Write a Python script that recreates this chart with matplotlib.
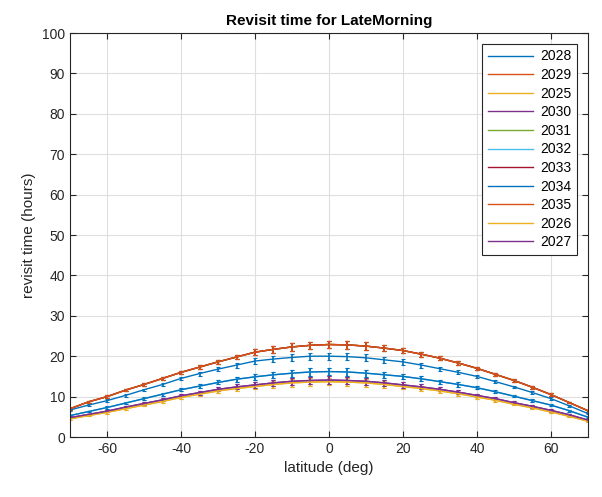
import numpy as np
import matplotlib
matplotlib.use("Agg")
import matplotlib.pyplot as plt

plt.rcParams['font.family'] = ['Liberation Sans', 'DejaVu Sans']
plt.rcParams['axes.unicode_minus'] = False

lat = [-70, -65, -60, -55, -50, -45, -40, -35, -30, -25, -20, -15, -10, -5, 0,
       5, 10, 15, 20, 25, 30, 35, 40, 45, 50, 55, 60, 65, 70]

curve_top = [7.0, 8.7, 10.0, 11.6, 13.0, 14.5, 16.0, 17.3, 18.6, 19.8, 21.0, 21.7, 22.3, 22.7, 22.9,
             22.8, 22.5, 22.0, 21.4, 20.5, 19.5, 18.3, 17.0, 15.5, 14.0, 12.3, 10.5, 8.5, 6.5]
curve_hi = [6.7, 7.9, 9.0, 10.3, 11.7, 13.0, 14.5, 15.7, 16.8, 17.8, 18.8, 19.3, 19.7, 20.0, 20.0,
            19.9, 19.6, 19.1, 18.6, 17.8, 16.9, 16.0, 15.0, 13.7, 12.4, 11.0, 9.5, 7.7, 5.8]
curve_mid = [5.3, 6.3, 7.3, 8.4, 9.5, 10.6, 11.7, 12.6, 13.5, 14.3, 14.9, 15.4, 15.8, 16.1, 16.2,
             16.1, 15.8, 15.4, 15.0, 14.4, 13.7, 13.0, 12.2, 11.2, 10.1, 9.0, 7.9, 6.5, 4.9]
curve_lo = [4.8, 5.6, 6.4, 7.4, 8.3, 9.2, 10.2, 11.0, 11.8, 12.4, 12.9, 13.4, 13.8, 14.0, 14.1,
            14.0, 13.8, 13.4, 12.9, 12.4, 11.8, 11.1, 10.3, 9.5, 8.5, 7.6, 6.6, 5.5, 4.2]
curve_lo2 = [4.5, 5.3, 6.1, 7.0, 7.9, 8.8, 9.8, 10.6, 11.4, 12.0, 12.5, 13.0, 13.4, 13.6, 13.7,
             13.6, 13.4, 13.0, 12.5, 12.0, 11.4, 10.7, 9.9, 9.1, 8.1, 7.2, 6.2, 5.1, 3.9]
err = [0.2, 0.2, 0.3, 0.3, 0.3, 0.4, 0.4, 0.5, 0.5, 0.6, 0.7, 0.8, 0.9, 0.9, 0.9,
       0.9, 0.9, 0.8, 0.7, 0.6, 0.5, 0.5, 0.4, 0.4, 0.3, 0.3, 0.3, 0.2, 0.2]

years = ['2028', '2029', '2025', '2030', '2031', '2032', '2033', '2034', '2035', '2026', '2027']
colors = ['#0072BD', '#D95319', '#EDB120', '#7E2F8E', '#77AC30', '#4DBEEE', '#A2142F',
          '#0072BD', '#D95319', '#EDB120', '#7E2F8E']
series = [curve_hi, curve_top, curve_lo2, curve_lo, curve_top, curve_mid, curve_top,
          curve_mid, curve_top, curve_lo2, curve_lo]

fig = plt.figure(figsize=(6.02, 4.97), dpi=100)
ax = fig.add_axes([0.1163, 0.1207, 0.8604, 0.8129])

for yr, c, s in zip(years, colors, series):
    ax.errorbar(lat, s, yerr=err, color=c, lw=1.0, elinewidth=1.2, capsize=1.2,
                capthick=0.8, label=yr)

ax.set_xlim(-70, 70)
ax.set_ylim(0, 100)
ax.set_xticks([-60, -40, -20, 0, 20, 40, 60])
ax.set_yticks(np.arange(0, 101, 10))
ax.grid(True, color='#dfdfdf', lw=0.8)
ax.set_axisbelow(True)
for sp in ax.spines.values():
    sp.set_color('#262626')
    sp.set_linewidth(0.8)
ax.tick_params(direction='in', length=4, labelsize=10, colors='#262626', top=True, right=True,
               labeltop=False, labelright=False)
ax.set_xlabel('latitude (deg)', fontsize=11, color='#262626')
ax.set_ylabel('revisit time (hours)', fontsize=11, color='#262626')
ax.set_title('Revisit time for LateMorning', fontsize=11, fontweight='bold', pad=6)

handles, labels = ax.get_legend_handles_labels()
handles = [h[0] for h in handles]
leg = ax.legend(handles, labels, loc='upper right', bbox_to_anchor=(0.979, 0.973), fontsize=10,
                frameon=True, fancybox=False, edgecolor='#262626', framealpha=1,
                handlelength=3.3, labelspacing=0.33, borderpad=0.4, handletextpad=0.5,
                borderaxespad=0)
leg.get_frame().set_linewidth(0.8)

fig.savefig('out.png', dpi=100)
